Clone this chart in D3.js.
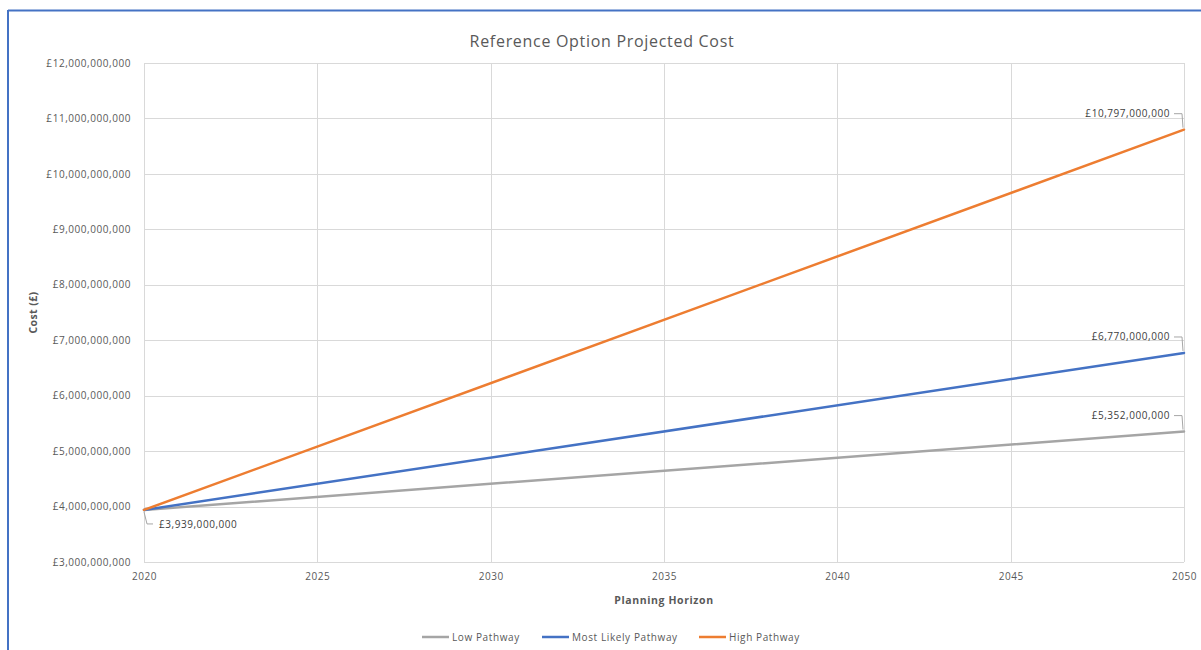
<!DOCTYPE html>
<html>
<head>
<meta charset="utf-8">
<script src="https://cdn.jsdelivr.net/npm/d3@7"></script>
<style>
  body { margin: 0; background: #fff; }
  text { font-family: "Open Sans", "Liberation Sans", sans-serif; }
</style>
</head>
<body>
<div id="chart"></div>
<script>
// data
var years = [2020, 2050];
var lowPathway = [3939000000, 5352000000];
var mostLikelyPathway = [3939000000, 6770000000];
var highPathway = [3939000000, 10797000000];
var seriesNames = ["Low Pathway", "Most Likely Pathway", "High Pathway"];
var seriesColors = ["#A5A5A5", "#4472C4", "#ED7D31"];
var xTicks = [2020, 2025, 2030, 2035, 2040, 2045, 2050];
var yTicks = [3e9, 4e9, 5e9, 6e9, 7e9, 8e9, 9e9, 10e9, 11e9, 12e9];

var W = 1201, H = 650;
var margin = {top: 63, right: 17, bottom: 88, left: 144},
    width = W - margin.left - margin.right,
    height = H - margin.top - margin.bottom;
var FONT = "'Open Sans', 'Liberation Sans', sans-serif";

var svg = d3.select("#chart").append("svg")
    .attr("width", W).attr("height", H);

// blue frame (top and left edges)
svg.append("line").attr("x1", 8).attr("x2", W).attr("y1", 10.5).attr("y2", 10.5)
    .attr("stroke", "#4472C4").attr("stroke-width", 2);
svg.append("line").attr("x1", 8).attr("x2", 8).attr("y1", 10).attr("y2", H)
    .attr("stroke", "#4472C4").attr("stroke-width", 2);

var g = svg.append("g").attr("transform", "translate(" + margin.left + "," + margin.top + ")");

var x = d3.scaleLinear().domain([2020, 2050]).range([0, width]);
var y = d3.scaleLinear().domain([3e9, 12e9]).range([height, 0]);

var fmt = function(v) { return "£" + d3.format(",")(v); };

// gridlines
g.append("g").selectAll("line").data(yTicks).enter().append("line")
    .attr("x1", 0).attr("x2", width)
    .attr("y1", function(d) { return Math.round(y(d)) + 0.5; })
    .attr("y2", function(d) { return Math.round(y(d)) + 0.5; })
    .attr("stroke", "#D9D9D9").attr("stroke-width", 1);
g.append("g").selectAll("line").data(xTicks).enter().append("line")
    .attr("y1", 0).attr("y2", height)
    .attr("x1", function(d) { return Math.round(x(d)) + 0.5; })
    .attr("x2", function(d) { return Math.round(x(d)) + 0.5; })
    .attr("stroke", "#D9D9D9").attr("stroke-width", 1);

// axes (labels only)
var yAxis = g.append("g").call(d3.axisLeft(y).tickValues(yTicks).tickFormat(fmt).tickSize(0).tickPadding(13));
yAxis.select(".domain").remove();
yAxis.selectAll("text").attr("font-size", "10px").attr("fill", "#595959")
    .attr("letter-spacing", "0.55px")
    .style("font-family", FONT);

var xAxis = g.append("g").attr("transform", "translate(0," + height + ")")
    .call(d3.axisBottom(x).tickValues(xTicks).tickFormat(d3.format("d")).tickSize(0).tickPadding(11));
xAxis.select(".domain").remove();
xAxis.selectAll("text").attr("font-size", "10px").attr("fill", "#595959")
    .attr("letter-spacing", "0.55px")
    .style("font-family", FONT);

// series lines
var allSeries = [lowPathway, mostLikelyPathway, highPathway];
var line = d3.line().x(function(d, i) { return x(years[i]); }).y(function(d) { return y(d); });

allSeries.forEach(function(s, k) {
    g.append("path").datum(s)
        .attr("d", line)
        .attr("fill", "none")
        .attr("stroke", seriesColors[k])
        .attr("stroke-width", 2.5)
        .attr("stroke-linecap", "round");
});

// data labels with leader lines
var start = lowPathway[0];
g.append("path")
    .attr("d", "M" + x(2020) + "," + (y(start) + 2) + " L" + (x(2020) + 3) + "," + (y(start) + 14) + " L" + (x(2020) + 9) + "," + (y(start) + 14))
    .attr("fill", "none").attr("stroke", "#A6A6A6").attr("stroke-width", 1);
g.append("text").attr("x", x(2020) + 15).attr("y", y(start) + 18)
    .attr("font-size", "10px").attr("letter-spacing", "0.55px")
    .attr("fill", "#404040").text(fmt(start));

allSeries.forEach(function(s, k) {
    var v = s[1];
    var py = y(v), ly = py - 16;
    g.append("path")
        .attr("d", "M" + (x(2050) - 10) + "," + ly + " L" + (x(2050) - 2) + "," + ly + " L" + (x(2050) - 1) + "," + (py - 2))
        .attr("fill", "none").attr("stroke", "#A6A6A6").attr("stroke-width", 1);
    g.append("text").attr("x", x(2050) - 14).attr("y", ly + 3.5)
        .attr("text-anchor", "end")
        .attr("font-size", "10px").attr("letter-spacing", "0.55px")
        .attr("fill", "#404040").text(fmt(v));
});

// titles
svg.append("text").attr("x", 602).attr("y", 47).attr("text-anchor", "middle")
    .attr("font-size", "16px").attr("letter-spacing", "0.7px")
    .attr("fill", "#595959").text("Reference Option Projected Cost");
svg.append("text").attr("x", margin.left + width / 2).attr("y", 604).attr("text-anchor", "middle")
    .attr("font-size", "10.5px").attr("letter-spacing", "0.6px")
    .attr("font-weight", "bold").attr("fill", "#595959").text("Planning Horizon");
svg.append("text").attr("transform", "translate(37," + (margin.top + height / 2) + ") rotate(-90)")
    .attr("text-anchor", "middle")
    .attr("font-size", "10.5px").attr("letter-spacing", "0.4px")
    .attr("font-weight", "bold").attr("fill", "#595959").text("Cost (£)");

// legend
var legendX = [422, 542, 699];
var legend = svg.append("g").selectAll("g").data(seriesNames).enter().append("g")
    .attr("transform", function(d, i) { return "translate(" + legendX[i] + ",637)"; });
legend.append("line").attr("x1", 0).attr("x2", 27).attr("y1", 0).attr("y2", 0)
    .attr("stroke", function(d, i) { return seriesColors[i]; }).attr("stroke-width", 2.5);
legend.append("text").attr("x", 30).attr("y", 3.5)
    .attr("font-size", "10px").attr("letter-spacing", "0.6px")
    .attr("fill", "#595959").text(function(d) { return d; });
</script>
</body>
</html>
